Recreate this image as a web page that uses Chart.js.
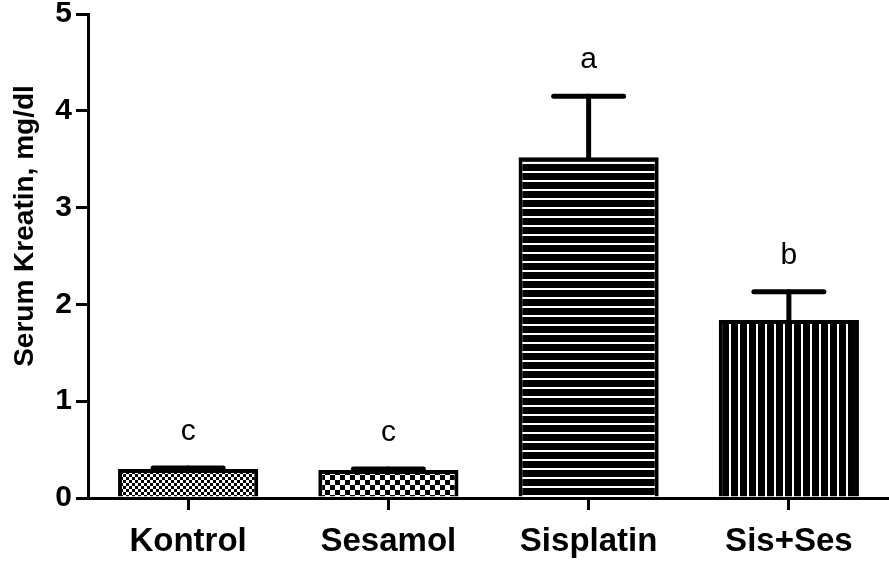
<!DOCTYPE html>
<html>
<head>
<meta charset="utf-8">
<script src="https://cdn.jsdelivr.net/npm/chart.js@4"></script>
<style>
  html, body { margin: 0; padding: 0; background: #fff; }
  #wrap { width: 889px; height: 568px; }
</style>
</head>
<body>
<div id="wrap"><canvas id="chartKreatin"></canvas></div>
<script>
// dados
const gruposNomes = ['Kontrol', 'Sesamol', 'Sisplatin', 'Sis+Ses'];
const mediasKreatin = [0.30, 0.29, 3.52, 1.84];
const errosKreatin = [0.01, 0.01, 0.63, 0.29];
const letrasSignif = ['c', 'c', 'a', 'b'];
const ticksY = [0, 1, 2, 3, 4, 5];
const tituloY = 'Serum Kreatin, mg/dl';

const FONTE = '"Liberation Sans", Arial, sans-serif';

/**
 * Cria um padrao de preenchimento (hachura) num canvas pequeno
 */
function criarPadrao(tipo) {
    const c = document.createElement('canvas');
    const g = c.getContext('2d');
    if (tipo === 'xadrezFino') {
        c.width = 6; c.height = 6;
        g.fillStyle = '#000'; g.fillRect(0, 0, 6, 6);
        g.fillStyle = '#fff';
        g.fillRect(0, 0, 3, 3); g.fillRect(3, 3, 3, 3);
    } else if (tipo === 'xadrez') {
        c.width = 10; c.height = 10;
        g.fillStyle = '#000'; g.fillRect(0, 0, 10, 10);
        g.fillStyle = '#fff';
        g.fillRect(0, 0, 5, 5); g.fillRect(5, 5, 5, 5);
    } else if (tipo === 'horizontal') {
        c.width = 4; c.height = 9;
        g.fillStyle = '#000'; g.fillRect(0, 0, 4, 9);
        g.fillStyle = '#fff'; g.fillRect(0, 0, 4, 2);
    } else {
        c.width = 9; c.height = 4;
        g.fillStyle = '#000'; g.fillRect(0, 0, 9, 4);
        g.fillStyle = '#fff'; g.fillRect(0, 0, 2, 4);
    }
    return g.createPattern(c, 'repeat');
}

// barras de erro (so para cima), letras de significancia e titulo do eixo Y
const pluginErros = {
    id: 'barrasErro',
    afterDatasetsDraw(chart) {
        const { ctx, scales: { x, y } } = chart;
        ctx.save();
        ctx.strokeStyle = '#000';
        ctx.fillStyle = '#000';
        ctx.lineCap = 'round';
        mediasKreatin.forEach((m, i) => {
            const cx = x.getPixelForValue(i);
            const yMedia = y.getPixelForValue(m);
            const yTopo = y.getPixelForValue(m + errosKreatin[i]);
            ctx.lineWidth = 5;
            ctx.beginPath();
            ctx.moveTo(cx, yMedia);
            ctx.lineTo(cx, yTopo);
            ctx.stroke();
            ctx.beginPath();
            ctx.moveTo(cx - 35, yTopo);
            ctx.lineTo(cx + 35, yTopo);
            ctx.stroke();

            ctx.font = '30px ' + FONTE;
            ctx.textAlign = 'center';
            ctx.textBaseline = 'alphabetic';
            ctx.fillText(letrasSignif[i], cx, yTopo - 28);
        });

        // titulo do eixo, um pouco acima do centro como no original
        ctx.translate(25, 226);
        ctx.rotate(-Math.PI / 2);
        ctx.font = 'bold 28px ' + FONTE;
        ctx.textAlign = 'center';
        ctx.textBaseline = 'middle';
        ctx.fillText(tituloY, 0, 0);
        ctx.restore();
    }
};

const ctx = document.getElementById('chartKreatin').getContext('2d');

new Chart(ctx, {
    type: 'bar',
    data: {
        labels: gruposNomes,
        datasets: [{
            data: mediasKreatin,
            backgroundColor: [criarPadrao('xadrezFino'), criarPadrao('xadrez'), criarPadrao('horizontal'), criarPadrao('vertical')],
            borderColor: '#000',
            borderWidth: 4,
            borderSkipped: 'bottom',
            barPercentage: 0.7,
            categoryPercentage: 1.0
        }]
    },
    options: {
        responsive: true,
        maintainAspectRatio: false,
        animation: false,
        layout: { padding: { top: 14, right: 0, left: 0, bottom: 0 } },
        plugins: { legend: { display: false }, tooltip: { enabled: false } },
        scales: {
            x: {
                offset: true,
                grid: { offset: false, drawOnChartArea: false, tickLength: 12, lineWidth: 3, color: '#000' },
                border: { color: '#000', width: 3 },
                ticks: { color: '#000', font: { family: FONTE, size: 33, weight: 'bold' }, padding: 12 },
                afterFit: (s) => { s.height = 70; s.paddingLeft = 0; s.paddingRight = 0; }
            },
            y: {
                min: 0,
                max: 5,
                afterBuildTicks: (s) => { s.ticks = ticksY.map(v => ({ value: v })); },
                grid: { drawOnChartArea: false, tickLength: 12, lineWidth: 3, color: '#000' },
                border: { color: '#000', width: 3 },
                ticks: { color: '#000', font: { family: FONTE, size: 30, weight: 'bold' }, padding: 4 },
                afterFit: (s) => { s.width = 88; s.paddingTop = 0; s.paddingBottom = 0; }
            }
        }
    },
    plugins: [pluginErros]
});
</script>
</body>
</html>
